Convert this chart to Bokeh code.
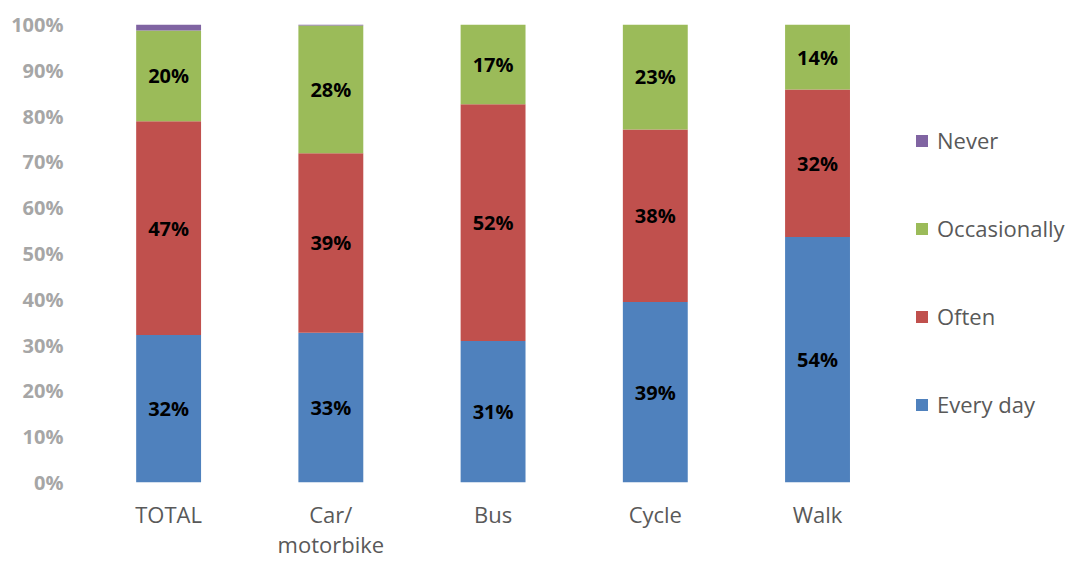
from bokeh.plotting import figure
from bokeh.models import (ColumnDataSource, FixedTicker, PrintfTickFormatter, Legend, LegendItem,
                          LabelSet, Range1d)
from bokeh.core.properties import value
from bokeh.embed import file_html
from bokeh.resources import INLINE

categories = ["TOTAL", "Car/\nmotorbike", "Bus", "Cycle", "Walk"]
every_day = [32.2, 32.7, 30.9, 39.4, 53.6]
often = [46.7, 39.2, 51.7, 37.7, 32.2]
occasionally = [19.8, 27.9, 17.4, 22.9, 14.2]
never = [1.3, 0.2, 0.0, 0.0, 0.0]
series_names = ["Every day", "Often", "Occasionally", "Never"]
colors = ["#4f81bd", "#c0504d", "#9bbb59", "#8064a2"]
y_ticks = [0, 10, 20, 30, 40, 50, 60, 70, 80, 90, 100]

FONT = "Open Sans"

xpos = list(range(len(categories)))
data = dict(x=xpos, **{"Every day": every_day, "Often": often,
                       "Occasionally": occasionally, "Never": never})
src = ColumnDataSource(data)

p = figure(x_range=Range1d(-0.5, 5.584), y_range=Range1d(0, 100), width=1074, height=561,
           output_backend="svg", toolbar_location=None,
           min_border_left=87, min_border_right=0, min_border_top=24, min_border_bottom=78)

rs = p.vbar_stack(series_names, x="x", width=0.4, source=src, color=colors, line_color=None)

# segment labels
lab_x, lab_y, lab_t = [], [], []
for i in xpos:
    base = 0.0
    for vals in (every_day, often, occasionally):
        v = vals[i]
        lab_x.append(i)
        lab_y.append(base + v / 2)
        lab_t.append(f"{round(v)}%")
        base += v
lsrc = ColumnDataSource(dict(x=lab_x, y=lab_y, t=lab_t))
labels = LabelSet(x="x", y="y", text="t", source=lsrc, text_align="center", text_baseline="middle",
                  text_font=value(FONT), text_font_style="bold", text_font_size="20px",
                  text_color="#000000")
p.add_layout(labels)

p.xgrid.visible = False
p.ygrid.visible = False
p.outline_line_color = None

p.yaxis.ticker = FixedTicker(ticks=y_ticks)
p.yaxis.formatter = PrintfTickFormatter(format="%d%%")
p.yaxis.axis_line_color = None
p.yaxis.major_tick_line_color = None
p.yaxis.minor_tick_line_color = None
p.yaxis.major_label_text_font = FONT
p.yaxis.major_label_text_font_style = "bold"
p.yaxis.major_label_text_font_size = "20px"
p.yaxis.major_label_text_color = "#a6a6a6"
p.yaxis.major_label_standoff = 18

p.xaxis.ticker = FixedTicker(ticks=xpos)
p.xaxis.major_label_overrides = {i: c for i, c in zip(xpos, categories)}
p.xaxis.axis_line_color = None
p.xaxis.major_tick_line_color = None
p.xaxis.minor_tick_line_color = None
p.xaxis.major_label_text_font = FONT
p.xaxis.major_label_text_font_size = "22px"
p.xaxis.major_label_text_color = "#595959"
p.xaxis.major_label_text_line_height = 1.0
p.xaxis.major_label_standoff = 10

items = [LegendItem(label=series_names[k], renderers=[rs[k]]) for k in (3, 2, 1, 0)]
legend = Legend(items=items, location=(827, 63), orientation="vertical",
                label_text_font=FONT, label_text_font_size="22px", label_text_color="#595959",
                glyph_width=15, glyph_height=15, label_standoff=8, spacing=58,
                padding=0, margin=0, border_line_color=None, background_fill_alpha=0)
p.add_layout(legend, "center")

open("out.html", "w").write(file_html(p, INLINE))
